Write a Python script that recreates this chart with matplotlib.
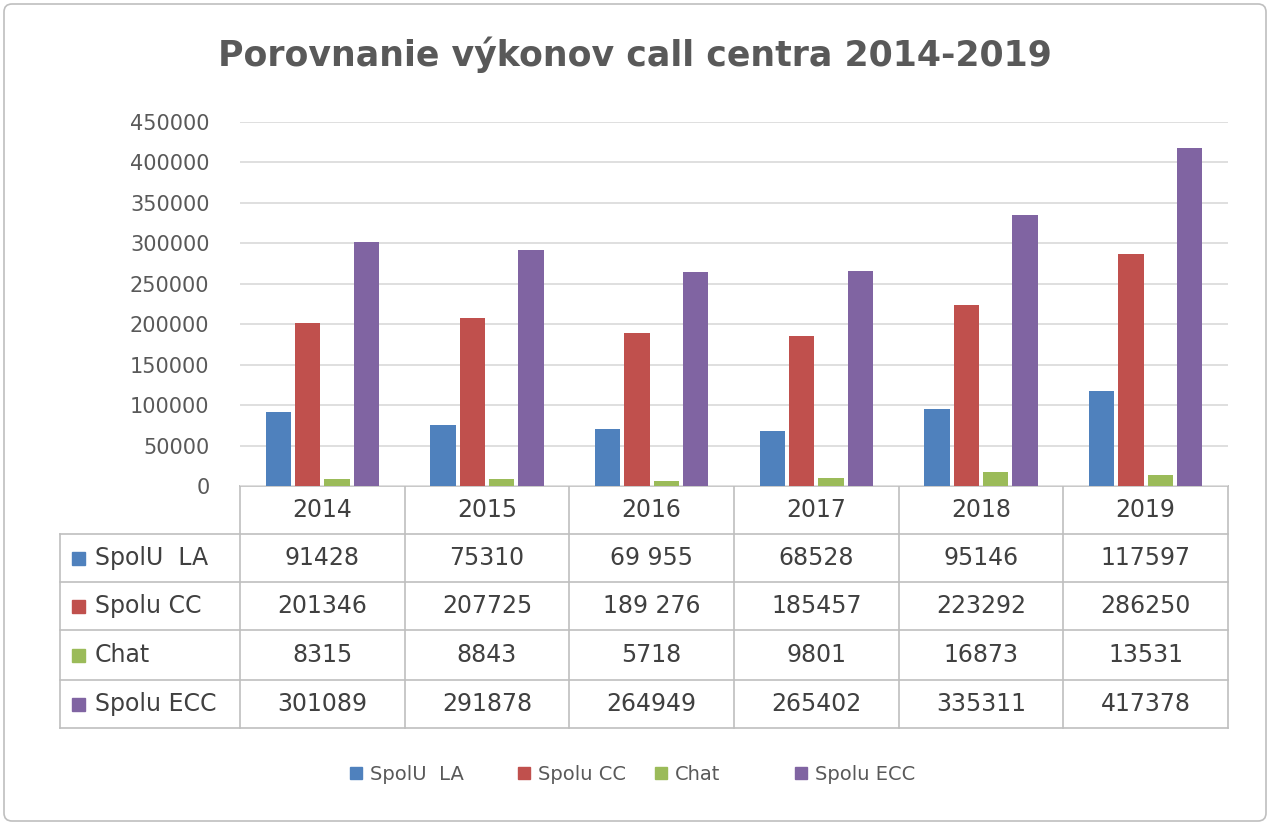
import matplotlib
matplotlib.use("Agg")
import matplotlib.pyplot as plt
from matplotlib.patches import Rectangle, FancyBboxPatch
import numpy as np

years = ["2014", "2015", "2016", "2017", "2018", "2019"]
series_names = ["SpolU  LA", "Spolu CC", "Chat", "Spolu ECC"]
spolu_la = [91428, 75310, 69955, 68528, 95146, 117597]
spolu_cc = [201346, 207725, 189276, 185457, 223292, 286250]
chat = [8315, 8843, 5718, 9801, 16873, 13531]
spolu_ecc = [301089, 291878, 264949, 265402, 335311, 417378]
table_text = [
    ["91428", "75310", "69 955", "68528", "95146", "117597"],
    ["201346", "207725", "189 276", "185457", "223292", "286250"],
    ["8315", "8843", "5718", "9801", "16873", "13531"],
    ["301089", "291878", "264949", "265402", "335311", "417378"],
]
colors = ["#4F81BD", "#C0504D", "#9BBB59", "#8064A2"]
series = [spolu_la, spolu_cc, chat, spolu_ecc]

W, H = 1270, 825
fig = plt.figure(figsize=(W/100, H/100), dpi=100)
bg = fig.add_axes([0, 0, 1, 1]); bg.set_xlim(0, W); bg.set_ylim(H, 0); bg.axis("off")
bg.add_patch(FancyBboxPatch((4, 4), W-8, H-8, boxstyle="round,pad=0,rounding_size=8",
                            fill=False, ec="#BFBFBF", lw=1.2))

x0, x1, ytop, ybot = 240, 1228, 122, 486
ax = fig.add_axes([x0/W, 1-ybot/H, (x1-x0)/W, (ybot-ytop)/H])
n = len(years)
x = np.arange(n)
for i, (s, c) in enumerate(zip(series, colors)):
    ax.bar(x + (i-1.5)*0.178, s, width=0.155, color=c, zorder=3)
ax.set_xlim(-0.5, n-0.5)
ax.set_ylim(0, 450000)
ax.set_yticks(range(0, 450001, 50000))
ax.yaxis.grid(True, color="#D9D9D9", lw=1.2, zorder=0)
ax.tick_params(axis="y", length=0, labelsize=15, labelcolor="#595959", pad=22)
ax.set_xticks([])
for sp in ax.spines.values(): sp.set_visible(False)

fig.text(0.5, 1-55/H, "Porovnanie výkonov call centra 2014-2019", ha="center", va="center",
         fontsize=25, fontweight="bold", color="#595959")

# data table
lc = "#BFBFBF"
rows_y = [486, 534, 582, 630, 680, 728]
cw = (x1-x0)/n
bg.plot([x0, x1], [486, 486], color=lc, lw=1.2)
for y in rows_y[1:]:
    bg.plot([60, x1], [y, y], color=lc, lw=1.2)
for k in range(n+1):
    bg.plot([x0+k*cw]*2, [486, 728], color=lc, lw=1.2)
bg.plot([60, 60], [534, 728], color=lc, lw=1.2)
for k, yr in enumerate(years):
    bg.text(x0+(k+0.5)*cw, 510, yr, ha="center", va="center", fontsize=17, color="#404040")
for r in range(4):
    yc = (rows_y[r+1]+rows_y[r+2])/2
    bg.add_patch(Rectangle((72, yc-6), 13, 13, color=colors[r]))
    bg.text(95, yc, series_names[r], ha="left", va="center", fontsize=17, color="#404040")
    for k in range(n):
        bg.text(x0+(k+0.5)*cw, yc, table_text[r][k], ha="center", va="center", fontsize=17, color="#404040")

# legend
lx = [350, 518, 655, 795]
for i in range(4):
    bg.add_patch(Rectangle((lx[i], 767), 12, 12, color=colors[i]))
    bg.text(lx[i]+20, 774, series_names[i], ha="left", va="center", fontsize=14, color="#595959")

fig.savefig("out.png", dpi=100)
